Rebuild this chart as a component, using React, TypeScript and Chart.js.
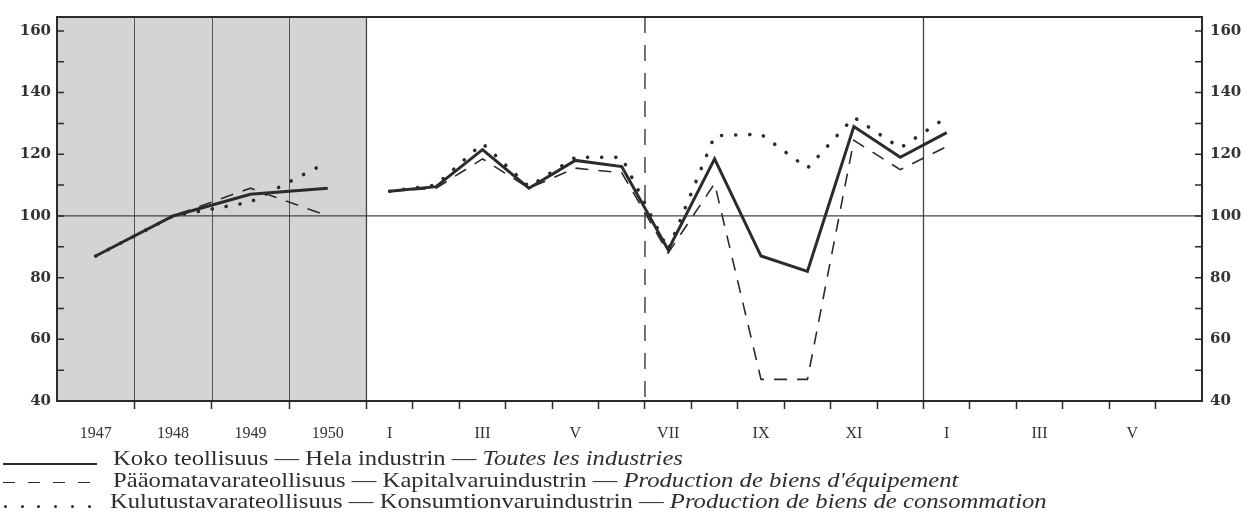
import React, { useEffect, useRef } from 'react';
import { Chart, registerables } from 'chart.js';

Chart.register(...registerables);

// ---- data ----
const years = ['1947', '1948', '1949', '1950'];
const totalAnnual = [87, 100, 107, 109];
const capitalAnnual = [87, 100, 109, 100];
const consumerAnnual = [87, 100, 104.5, 117.5];

const monthNames = ['I', 'II', 'III', 'IV', 'V', 'VI', 'VII', 'VIII', 'IX', 'X', 'XI', 'XII', 'I', 'II', 'III', 'IV', 'V', 'VI'];
// Jan 1950 – Jan 1951
const totalMonthly = [108, 109.5, 121.5, 109, 118, 116, 89, 118.5, 87, 82, 129, 119, 127];
const capitalMonthly = [108, 109, 118.5, 109, 115.5, 114, 88, 110.5, 47, 47, 124.5, 115, 122.5];
const consumerMonthly = [108, 110, 123.5, 109.5, 119, 119, 89, 126, 126.5, 115.5, 132, 122, 132];

const yLabels = [40, 60, 80, 100, 120, 140, 160];
const yMinorTicks = [50, 60, 70, 80, 90, 100, 110, 120, 130, 140, 150, 160];

const legendItems = [
  { plain: 'Koko teollisuus — Hela industrin — ', italic: 'Toutes les industries' },
  { plain: 'Pääomatavarateollisuus — Kapitalvaruindustrin — ', italic: "Production de biens d'équipement" },
  { plain: 'Kulutustavarateollisuus — Konsumtionvaruindustrin — ', italic: 'Production de biens de consommation' },
];

// ---- layout helpers (scale units: one month = 1) ----
const YEAR_UNITS = 5 / 3;
const YEARS_END = years.length * YEAR_UNITS;
const X_MAX = YEARS_END + monthNames.length;

const yearX = (i: number) => (i + 0.5) * YEAR_UNITS;
const monthX = (j: number) => YEARS_END + j + 0.5;

function series(annual: number[], monthly: number[]) {
  const pts: { x: number; y: number | null }[] = [];
  annual.forEach((v, i) => pts.push({ x: yearX(i), y: v }));
  pts.push({ x: YEARS_END, y: null });
  monthly.forEach((v, j) => pts.push({ x: monthX(j), y: v }));
  return pts;
}

type TickDef = { value: number; text: string; mark: boolean };
function buildXTicks(): TickDef[] {
  const t: TickDef[] = [];
  years.forEach((y, i) => {
    t.push({ value: yearX(i), text: y, mark: false });
    t.push({ value: (i + 1) * YEAR_UNITS, text: '', mark: true });
  });
  monthNames.forEach((m, j) => {
    t.push({ value: monthX(j), text: j % 2 === 0 ? m : '', mark: false });
    if (j < monthNames.length - 1) t.push({ value: YEARS_END + j + 1, text: '', mark: true });
  });
  return t.sort((a, b) => a.value - b.value);
}
const xTicks = buildXTicks();

const INK = '#2b2b2b';

const framePlugin = {
  id: 'frame',
  beforeDatasetsDraw(chart: any) {
    const { ctx, chartArea: a, scales } = chart;
    const x = scales.x;
    const y = scales.y;
    ctx.save();
    // shaded annual section
    const xe = x.getPixelForValue(YEARS_END);
    ctx.fillStyle = '#d4d4d4';
    ctx.fillRect(a.left, a.top, xe - a.left, a.bottom - a.top);
    const vline = (px: number) => {
      ctx.beginPath();
      ctx.moveTo(px, a.top);
      ctx.lineTo(px, a.bottom);
      ctx.stroke();
    };
    ctx.strokeStyle = '#555';
    ctx.lineWidth = 1;
    for (let k = 1; k < years.length; k++) vline(Math.round(x.getPixelForValue(k * YEAR_UNITS)) + 0.5);
    ctx.strokeStyle = '#444';
    ctx.lineWidth = 1.3;
    vline(x.getPixelForValue(YEARS_END));
    vline(x.getPixelForValue(YEARS_END + 12));
    ctx.setLineDash([16, 12]);
    ctx.lineWidth = 1.5;
    vline(x.getPixelForValue(YEARS_END + 6));
    ctx.setLineDash([]);
    // 100 line
    ctx.lineWidth = 1.2;
    const p100 = y.getPixelForValue(100);
    ctx.beginPath();
    ctx.moveTo(a.left, p100);
    ctx.lineTo(a.right, p100);
    ctx.stroke();
    // inner tick marks on both sides
    ctx.strokeStyle = INK;
    ctx.lineWidth = 1.5;
    yMinorTicks.forEach((v) => {
      const py = y.getPixelForValue(v);
      ctx.beginPath();
      ctx.moveTo(a.left, py);
      ctx.lineTo(a.left + 7, py);
      ctx.moveTo(a.right - 7, py);
      ctx.lineTo(a.right, py);
      ctx.stroke();
    });
    ctx.restore();
  },
  afterDatasetsDraw(chart: any) {
    const { ctx, chartArea: a } = chart;
    ctx.save();
    ctx.strokeStyle = INK;
    ctx.lineWidth = 2;
    ctx.strokeRect(a.left, a.top, a.right - a.left, a.bottom - a.top);
    ctx.restore();
  },
};

const W = 1251;
const H = 514;
const PLOT_LEFT = 57;
const PLOT_RIGHT = 1202;
const PLOT_TOP = 12;
const PLOT_BOTTOM = 401;

export default function App() {
  const ref = useRef<HTMLCanvasElement | null>(null);

  useEffect(() => {
    if (!ref.current) return;
    const yTickFont = { family: 'DejaVu Serif', size: 15, weight: 'bold' as const };
    const chart = new Chart(ref.current, {
      type: 'line',
      data: {
        datasets: [
          {
            label: 'total',
            data: series(totalAnnual, totalMonthly),
            borderColor: INK,
            borderWidth: 3,
            pointRadius: 0,
            tension: 0,
            spanGaps: false,
            borderJoinStyle: 'miter',
          },
          {
            label: 'capital',
            data: series(capitalAnnual, capitalMonthly),
            borderColor: INK,
            borderWidth: 1.6,
            borderDash: [13, 10],
            pointRadius: 0,
            tension: 0,
            spanGaps: false,
          },
          {
            label: 'consumer',
            data: series(consumerAnnual, consumerMonthly),
            borderColor: INK,
            borderWidth: 3.6,
            borderDash: [0.1, 14],
            borderCapStyle: 'round',
            pointRadius: 0,
            tension: 0,
            spanGaps: false,
          },
        ],
      },
      options: {
        animation: false,
        responsive: false,
        layout: { padding: { top: PLOT_TOP, left: 0, right: 0, bottom: 0 } },
        plugins: { legend: { display: false }, tooltip: { enabled: false } },
        scales: {
          x: {
            type: 'linear',
            min: 0,
            max: X_MAX,
            afterBuildTicks: (s: any) => {
              s.ticks = xTicks.map((t) => ({ value: t.value }));
            },
            afterFit: (s: any) => {
              s.height = H - PLOT_BOTTOM;
            },
            ticks: {
              autoSkip: false,
              maxRotation: 0,
              padding: 15,
              color: '#333',
              font: { family: 'Liberation Serif', size: 16 },
              callback: (_v: any, i: number) => xTicks[i].text,
            },
            grid: {
              display: true,
              drawOnChartArea: false,
              drawTicks: true,
              tickLength: 8,
              tickWidth: 1.5,
              tickColor: (c: any) => (xTicks[c.index] && xTicks[c.index].mark ? INK : 'rgba(0,0,0,0)'),
            },
            border: { display: false },
          },
          y: {
            type: 'linear',
            position: 'left',
            min: 40,
            max: 164.5,
            afterBuildTicks: (s: any) => {
              s.ticks = yLabels.map((v) => ({ value: v }));
            },
            afterFit: (s: any) => {
              s.width = PLOT_LEFT;
            },
            ticks: { padding: 6, color: '#333', font: yTickFont },
            grid: { display: false, drawTicks: false },
            border: { display: false },
          },
          y2: {
            type: 'linear',
            position: 'right',
            min: 40,
            max: 164.5,
            afterBuildTicks: (s: any) => {
              s.ticks = yLabels.map((v) => ({ value: v }));
            },
            afterFit: (s: any) => {
              s.width = W - PLOT_RIGHT;
            },
            ticks: { padding: 8, color: '#333', font: yTickFont },
            grid: { display: false, drawTicks: false },
            border: { display: false },
          },
        },
      },
      plugins: [framePlugin],
    } as any);
    return () => chart.destroy();
  }, []);

  const legendFont = "'Liberation Serif', 'DejaVu Serif', serif";
  const baselines = [465, 487, 508];
  const size = 22;

  return (
    <div style={{ position: 'absolute', left: 0, top: 0, width: W, height: H, background: '#fff', overflow: 'hidden' }}>
      <canvas ref={ref} width={W} height={H} style={{ position: 'absolute', left: 0, top: 0, width: W, height: H }} />
      {/* legend symbols */}
      <div style={{ position: 'absolute', left: 3, top: baselines[0] - 2, width: 94, height: 0, borderTop: `2px solid ${INK}` }} />
      {[0, 1, 2, 3].map((k) => (
        <div key={'d' + k} style={{ position: 'absolute', left: 3 + k * 25, top: baselines[1] - 5, width: 12, height: 0, borderTop: `1.6px solid ${INK}` }} />
      ))}
      {[0, 1, 2, 3, 4, 5].map((k) => (
        <div key={'p' + k} style={{ position: 'absolute', left: 4 + k * 16.7, top: baselines[2] - 3, width: 3, height: 3, borderRadius: 2, background: INK }} />
      ))}
      {legendItems.map((it, i) => (
        <div
          key={i}
          style={{
            position: 'absolute',
            left: i === 2 ? 110 : 113,
            top: baselines[i] - 18,
            fontFamily: legendFont,
            fontSize: size,
            lineHeight: '22px',
            whiteSpace: 'nowrap',
            color: '#2e2e2e',
            transform: 'scaleX(1.12)',
            transformOrigin: 'left center',
          }}
        >
          {it.plain}
          <i>{it.italic}</i>
        </div>
      ))}
    </div>
  );
}
